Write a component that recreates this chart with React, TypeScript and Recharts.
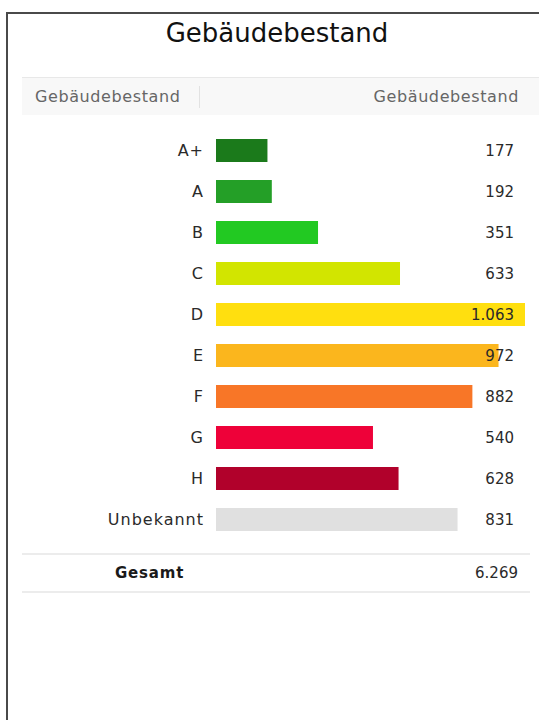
import { BarChart, Bar, XAxis, YAxis, Cell, LabelList } from 'recharts';

const classes = ['A+', 'A', 'B', 'C', 'D', 'E', 'F', 'G', 'H', 'Unbekannt'];
const counts = [177, 192, 351, 633, 1063, 972, 882, 540, 628, 831];
const colors = [
  '#1b7a1b', '#249f27', '#22c922', '#d2e500', '#ffdf0f',
  '#fbb61d', '#f87627', '#ee0139', '#b1012b', '#e0e0e0'
];

const title = 'Gebäudebestand';
const headLeft = 'Gebäudebestand';
const headRight = 'Gebäudebestand';
const totalLabel = 'Gesamt';

const font = '"DejaVu Sans", sans-serif';

// german thousands separator
const fmt = (n: number) => String(n).replace(/\B(?=(\d{3})+(?!\d))/g, '.');

const data = classes.map((c, i) => ({ name: c, value: counts[i] }));
const total = counts.reduce((a, b) => a + b, 0);

const ValueLabel = (props: any) => {
  const { y, height, value } = props;
  return (
    <text x={514} y={y + height / 2} textAnchor="end" dominantBaseline="central"
      fontSize={15} fill="#2a2a2a" fontFamily={font}>
      {fmt(value)}
    </text>
  );
};

export default function App() {
  return (
    <div style={{ position: 'absolute', left: 0, top: 0, width: 539, height: 720, background: '#fff', fontFamily: font, overflow: 'hidden' }}>
      <div style={{ position: 'absolute', left: 6, top: 12, right: 0, bottom: 0, borderLeft: '2px solid #4a4a4a', borderTop: '2px solid #4a4a4a' }} />

      <div style={{ position: 'absolute', left: 0, width: 554, top: 17, textAlign: 'center', fontSize: 26, color: '#111', lineHeight: '32px' }}>
        {title}
      </div>

      <div style={{ position: 'absolute', left: 22, top: 77, width: 517, height: 37, background: '#f8f8f8', borderTop: '1px solid #e8e8e8' }}>
        <div style={{ position: 'absolute', left: 13, top: 0, lineHeight: '37px', fontSize: 16, letterSpacing: 0.6, color: '#666' }}>{headLeft}</div>
        <div style={{ position: 'absolute', left: 177, top: 8, width: 1, height: 22, background: '#e2e2e2' }} />
        <div style={{ position: 'absolute', right: 20, top: 0, lineHeight: '37px', fontSize: 16, letterSpacing: 0.6, color: '#666' }}>{headRight}</div>
      </div>

      <div style={{ position: 'absolute', left: 0, top: 130 }}>
        <BarChart width={539} height={410} data={data} layout="vertical"
          margin={{ top: 0, right: 14, bottom: 0, left: 0 }} barCategoryGap={0}>
          <XAxis type="number" domain={[0, 1063]} hide />
          <YAxis type="category" dataKey="name" width={216} axisLine={false} tickLine={false}
            tickSize={0} tickMargin={12} interval={0}
            tick={{ fontSize: 16, fill: '#2a2a2a', fontFamily: font, letterSpacing: 1 }} />
          <Bar dataKey="value" barSize={23} isAnimationActive={false}>
            {data.map((d, i) => (
              <Cell key={d.name} fill={colors[i]} />
            ))}
            <LabelList dataKey="value" content={ValueLabel} />
          </Bar>
        </BarChart>
      </div>

      <div style={{ position: 'absolute', left: 22, top: 553, width: 508, height: 36, borderTop: '2px solid #ececec', borderBottom: '2px solid #ececec' }}>
        <div style={{ position: 'absolute', left: 93, top: 0, lineHeight: '36px', fontSize: 15, fontWeight: 600, letterSpacing: 0.8, color: '#1a1a1a' }}>{totalLabel}</div>
        <div style={{ position: 'absolute', right: 12, top: 0, lineHeight: '36px', fontSize: 15, color: '#2a2a2a' }}>{fmt(total)}</div>
      </div>
    </div>
  );
}
